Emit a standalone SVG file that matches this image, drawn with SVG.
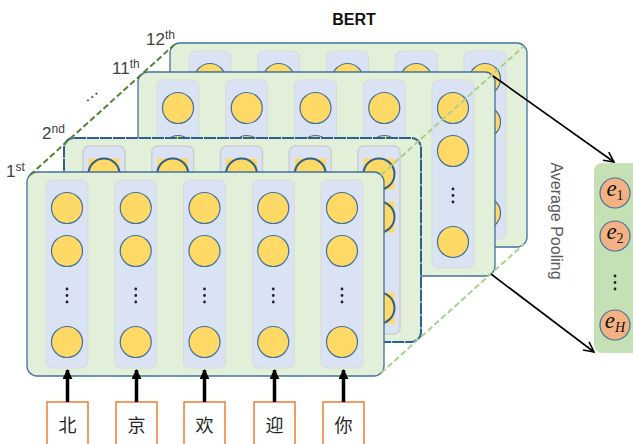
<svg xmlns="http://www.w3.org/2000/svg" xmlns:xlink="http://www.w3.org/1999/xlink" width="633" height="444" viewBox="0 0 633 444">
<style>
.layer{fill:#E2F0D9;stroke:#41719C;stroke-width:1.3}
.layer2{fill:#E2F0D9;stroke:#2F5F8F;stroke-width:2;stroke-dasharray:12 1}
.col{fill:#DAE3F3;stroke:#D9D9D9;stroke-width:1}
.col2{fill:#DAE3F3;stroke:#D0CECE;stroke-width:1.6}
.node{fill:#FFD966;stroke:#41719C;stroke-width:1.2}
.node2{fill:#FFD966;stroke:#2F5F8F;stroke-width:2}
.sq{fill:#FFD966}
.dot{fill:#222}
.lbl{font-family:"Liberation Sans",Arial,sans-serif;fill:#404040;font-size:17px}
.sup{font-size:12px}
.inp{fill:#FFFFFF;stroke:#ED7D31;stroke-width:1.5}
.cjk{font-family:"Noto Sans CJK SC","Noto Sans CJK JP",sans-serif;font-size:18px;fill:#262626;text-anchor:middle}
.emb{fill:#F4B183;stroke:#41719C;stroke-width:1.2}
.elbl{font-family:"Liberation Serif","DejaVu Serif",serif;font-style:italic;font-size:23px;fill:#111;text-anchor:middle}
.esub{font-size:14px}
.dk{stroke:#548235;stroke-width:2;stroke-dasharray:6 3;fill:none}
.lt{stroke:#A9D18E;stroke-width:2;stroke-dasharray:6 3;fill:none}
.arr{stroke:#000;stroke-width:1.6;fill:none}
.inarr{stroke:#000;stroke-width:3.5;fill:none}
</style>
<defs>
<marker id="open" viewBox="0 0 12 12" refX="11" refY="6" markerWidth="12" markerHeight="12" markerUnits="userSpaceOnUse" orient="auto">
<path d="M1,1 L11,6 L1,11" fill="none" stroke="#000" stroke-width="1.6"/>
</marker>
<marker id="solid" viewBox="0 0 10 10" refX="9" refY="5" markerWidth="10" markerHeight="10" markerUnits="userSpaceOnUse" orient="auto">
<path d="M0,0 L10,5 L0,10 Z" fill="#000"/>
</marker>
<g id="col">
<rect class="col" x="-21" y="180" width="42" height="188" rx="6"/>
<circle class="node" cx="0" cy="208" r="15.5"/>
<circle class="node" cx="0" cy="251" r="15.5"/>
<circle class="dot" cx="0" cy="289" r="1.4"/>
<circle class="dot" cx="0" cy="295.5" r="1.4"/>
<circle class="dot" cx="0" cy="302" r="1.4"/>
<circle class="node" cx="0" cy="342" r="15.5"/>
</g>
<g id="col2">
<rect class="col2" x="-21" y="180" width="42" height="188" rx="6"/>
<rect class="sq" x="-15.5" y="192.5" width="31" height="31"/>
<circle class="node2" cx="0" cy="208" r="15.5"/>
<rect class="sq" x="-15.5" y="235.5" width="31" height="31"/>
<circle class="node2" cx="0" cy="251" r="15.5"/>
<circle class="dot" cx="0" cy="289" r="1.4"/>
<circle class="dot" cx="0" cy="295.5" r="1.4"/>
<circle class="dot" cx="0" cy="302" r="1.4"/>
<rect class="sq" x="-15.5" y="326.5" width="31" height="31"/>
<circle class="node2" cx="0" cy="342" r="15.5"/>
</g>
</defs>
<rect width="633" height="444" fill="#FFFFFF"/>
<text x="354" y="25" font-family="Liberation Sans,Arial,sans-serif" font-weight="bold" font-size="16" fill="#111" text-anchor="middle">BERT</text>
<g id="layer12" transform="translate(143,-129)">
<rect class="layer" x="27" y="172" width="357" height="204" rx="10"/>
<use href="#col" x="67"/><use href="#col" x="135.75"/><use href="#col" x="204.5"/><use href="#col" x="273.25"/><use href="#col" x="342"/>
</g>
<g id="layer11" transform="translate(111,-100)">
<rect class="layer" x="27" y="172" width="357" height="204" rx="10"/>
<use href="#col" x="67"/><use href="#col" x="135.75"/><use href="#col" x="204.5"/><use href="#col" x="273.25"/><use href="#col" x="342"/>
</g>
<g id="layer2" transform="translate(37,-34)">
<rect class="layer2" x="27" y="172" width="357" height="204" rx="10"/>
<use href="#col2" x="67"/><use href="#col2" x="135.75"/><use href="#col2" x="204.5"/><use href="#col2" x="273.25"/><use href="#col2" x="342"/>
</g>
<g id="layer1">
<rect class="layer" x="27" y="172" width="357" height="204" rx="10"/>
<use href="#col" x="67"/><use href="#col" x="135.75"/><use href="#col" x="204.5"/><use href="#col" x="273.25"/><use href="#col" x="342"/>
</g>
<g id="layer-labels" class="lbl">
<text x="146" y="45">12<tspan class="sup" dy="-6">th</tspan></text>
<text x="112" y="74">11<tspan class="sup" dy="-6">th</tspan></text>
<text x="42" y="139">2<tspan class="sup" dy="-6">nd</tspan></text>
<text x="6" y="177">1<tspan class="sup" dy="-6">st</tspan></text>
<text x="92" y="98" text-anchor="middle" transform="rotate(-38 92 97)">…</text>
</g>
<g id="inputs">
<g id="in1"><rect class="inp" x="47" y="402" width="41" height="46"/><text class="cjk" x="67.5" y="432">北</text></g>
<g id="in2"><rect class="inp" x="116" y="402" width="41" height="46"/><text class="cjk" x="136.5" y="432">京</text></g>
<g id="in3"><rect class="inp" x="184" y="402" width="41" height="46"/><text class="cjk" x="204.5" y="432">欢</text></g>
<g id="in4"><rect class="inp" x="254" y="402" width="41" height="46"/><text class="cjk" x="274.5" y="432">迎</text></g>
<g id="in5"><rect class="inp" x="323" y="402" width="41" height="46"/><text class="cjk" x="343.5" y="432">你</text></g>
</g>
<g id="embedding">
<rect x="594" y="163" width="52" height="190" rx="8" fill="#C5E0B4"/>
<circle class="emb" cx="615" cy="193" r="15"/>
<text class="elbl" x="615" y="196">e<tspan class="esub" dy="4" font-style="normal">1</tspan></text>
<circle class="emb" cx="615" cy="236" r="15"/>
<text class="elbl" x="615" y="239">e<tspan class="esub" dy="4" font-style="normal">2</tspan></text>
<circle class="dot" cx="615" cy="276" r="1.4"/>
<circle class="dot" cx="615" cy="282.5" r="1.4"/>
<circle class="dot" cx="615" cy="289" r="1.4"/>
<circle class="emb" cx="615" cy="325" r="15"/>
<text class="elbl" x="615" y="328">e<tspan class="esub" dy="4">H</tspan></text>
</g>
<text x="0" y="0" text-anchor="middle" transform="translate(551,221) rotate(90)" font-family="Liberation Sans,Arial,sans-serif" font-size="16" fill="#595959">Average Pooling</text>
<g id="connectors">
<line class="dk" x1="30" y1="175" x2="174" y2="45"/>
<line class="lt" x1="381" y1="175" x2="524" y2="46"/>
<line class="lt" x1="381" y1="373" x2="524" y2="244"/>
<line class="arr" x1="493" y1="76" x2="614" y2="162" marker-end="url(#open)"/>
<line class="arr" x1="491" y1="274" x2="594" y2="352" marker-end="url(#open)"/>
<line class="inarr" x1="67.5" y1="402" x2="67.5" y2="370" marker-end="url(#solid)"/>
<line class="inarr" x1="136.5" y1="402" x2="136.5" y2="370" marker-end="url(#solid)"/>
<line class="inarr" x1="204.5" y1="402" x2="204.5" y2="370" marker-end="url(#solid)"/>
<line class="inarr" x1="274.5" y1="402" x2="274.5" y2="370" marker-end="url(#solid)"/>
<line class="inarr" x1="343.5" y1="402" x2="343.5" y2="370" marker-end="url(#solid)"/>
</g>
</svg>
